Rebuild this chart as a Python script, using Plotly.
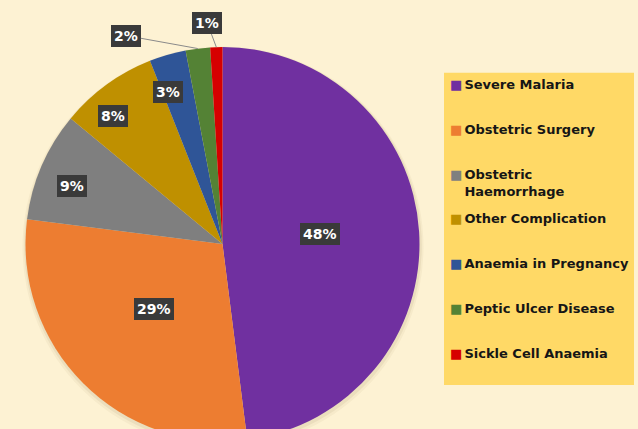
import math
import plotly.graph_objects as go

# ---- data ----
CATEGORIES = [
    "Severe Malaria",
    "Obstetric Surgery",
    "Obstetric Haemorrhage",
    "Other Complication",
    "Anaemia in Pregnancy",
    "Peptic Ulcer Disease",
    "Sickle Cell Anaemia",
]
LEGEND_TEXT = [
    "Severe Malaria",
    "Obstetric Surgery",
    "Obstetric<br>Haemorrhage",
    "Other Complication",
    "Anaemia in Pregnancy",
    "Peptic Ulcer Disease",
    "Sickle Cell Anaemia",
]
PERCENTS = [48, 29, 9, 8, 3, 2, 1]

# ---- style ----
COLORS = ["#7030A0", "#ED7D31", "#7F7F7F", "#BF9000", "#2F5597", "#548235", "#D60000"]
BG = "#FDF2D3"
LEGEND_BG = "#FFD966"
LABEL_BG = "#3A3A3A"
FONT = "DejaVu Sans"

W, H = 638, 454
CX, CY, R = 222.5, 244.0, 197.0
# label placement: radial fraction + small angular nudge (deg) for inside labels,
# pixel offsets for the outside ones
LABEL_RF = [0.497, 0.48, 0.82, 0.855, 0.82, None, None]
LABEL_DANGLE = [-2.3, 1.5, -2.3, -4.5, -3.5, 0, 0]
OUTSIDE_OFFSET = {5: (-72, -13), 6: (-9, -24)}


def px_to_paper(px, py):
    return px / W, 1 - py / H


fig = go.Figure()

# soft shadow behind the pie
for grow, dy, alpha in [(3.5, 3, 0.05), (1.8, 2, 0.08)]:
    rr = R + grow
    fig.add_trace(go.Pie(
        values=[sum(PERCENTS)],
        labels=["shadow"],
        marker=dict(colors=[f"rgba(110,90,40,{alpha})"], line=dict(width=0)),
        textinfo="none", hoverinfo="skip", showlegend=False, sort=False,
        domain=dict(x=[(CX + 0.5 - rr) / W, (CX + 0.5 + rr) / W],
                    y=[1 - (CY + dy + rr) / H, 1 - (CY + dy - rr) / H]),
    ))

fig.add_trace(go.Pie(
    labels=CATEGORIES,
    values=PERCENTS,
    marker=dict(colors=COLORS, line=dict(width=0)),
    sort=False,
    direction="clockwise",
    rotation=0,
    textinfo="none",
    hovertemplate="%{label}: %{value}%<extra></extra>",
    showlegend=False,
    domain=dict(x=[(CX - R) / W, (CX + R) / W], y=[1 - (CY + R) / H, 1 - (CY - R) / H]),
))

# legend entries (symbol drawn inside the text so it sits close to the label)
for i, (txt, col) in enumerate(zip(LEGEND_TEXT, COLORS)):
    lines = txt.split("<br>")
    sq = (f'<span style="color:{col};font-size:13px">■</span>'
          '<span style="font-size:6px">\u00a0</span>')
    blank = ('<span style="color:rgba(0,0,0,0);font-size:13px">■</span>'
             '<span style="font-size:6px">\u00a0</span>')
    if len(lines) == 1:
        label = sq + lines[0] + "<br>\u00a0"
    else:
        label = sq + lines[0] + "<br>" + blank + lines[1]
    fig.add_trace(go.Scatter(
        x=[None], y=[None], mode="markers", name=label,
        marker=dict(size=1, color="rgba(0,0,0,0)"),
        legendgroup=f"g{i}", showlegend=True, hoverinfo="skip",
    ))

# percentage labels
annotations = []
total = sum(PERCENTS)
cum = 0.0
for i, v in enumerate(PERCENTS):
    mid = (cum + v / 2) / total * 2 * math.pi
    cum += v
    text = f"{round(v / total * 100)}%"
    common = dict(text=text, xref="paper", yref="paper", bgcolor=LABEL_BG,
                  font=dict(family=FONT, size=14, color="white", weight="bold"),
                  borderpad=3, borderwidth=0, xanchor="center", yanchor="middle")
    if LABEL_RF[i] is not None:
        rf = LABEL_RF[i]
        a = mid + math.radians(LABEL_DANGLE[i])
        x, y = px_to_paper(CX + rf * R * math.sin(a), CY - rf * R * math.cos(a))
        annotations.append(dict(x=x, y=y, showarrow=False, **common))
    else:
        x, y = px_to_paper(CX + R * math.sin(mid), CY - R * math.cos(mid))
        ax, ay = OUTSIDE_OFFSET[i]
        annotations.append(dict(x=x, y=y, showarrow=True, arrowhead=0, arrowwidth=1,
                                arrowcolor="#8A8A8A", ax=ax, ay=ay, standoff=0, **common))

lx0, ly1 = px_to_paper(444, 72.7)
lx1, ly0 = px_to_paper(634, 385)

fig.update_layout(
    width=W, height=H,
    margin=dict(l=0, r=0, t=0, b=0),
    paper_bgcolor=BG, plot_bgcolor=BG,
    xaxis=dict(visible=False), yaxis=dict(visible=False),
    showlegend=True,
    legend=dict(
        x=px_to_paper(410, 0)[0], xanchor="left",
        y=px_to_paper(0, 69)[1], yanchor="top",
        bgcolor="rgba(0,0,0,0)", borderwidth=0,
        font=dict(family=FONT, size=13, color="#161616", weight="bold"),
        tracegroupgap=8, itemsizing="trace",
    ),
    shapes=[dict(type="rect", xref="paper", yref="paper", x0=lx0, x1=lx1, y0=ly0, y1=ly1,
                 fillcolor=LEGEND_BG, line=dict(width=0), layer="below")],
    annotations=annotations,
)

fig.write_html(
    "out.html",
    config={"displayModeBar": False},
    post_script=f"document.body.style.margin='0';document.body.style.overflow='hidden';"
                f"document.body.style.background='{BG}';",
)
